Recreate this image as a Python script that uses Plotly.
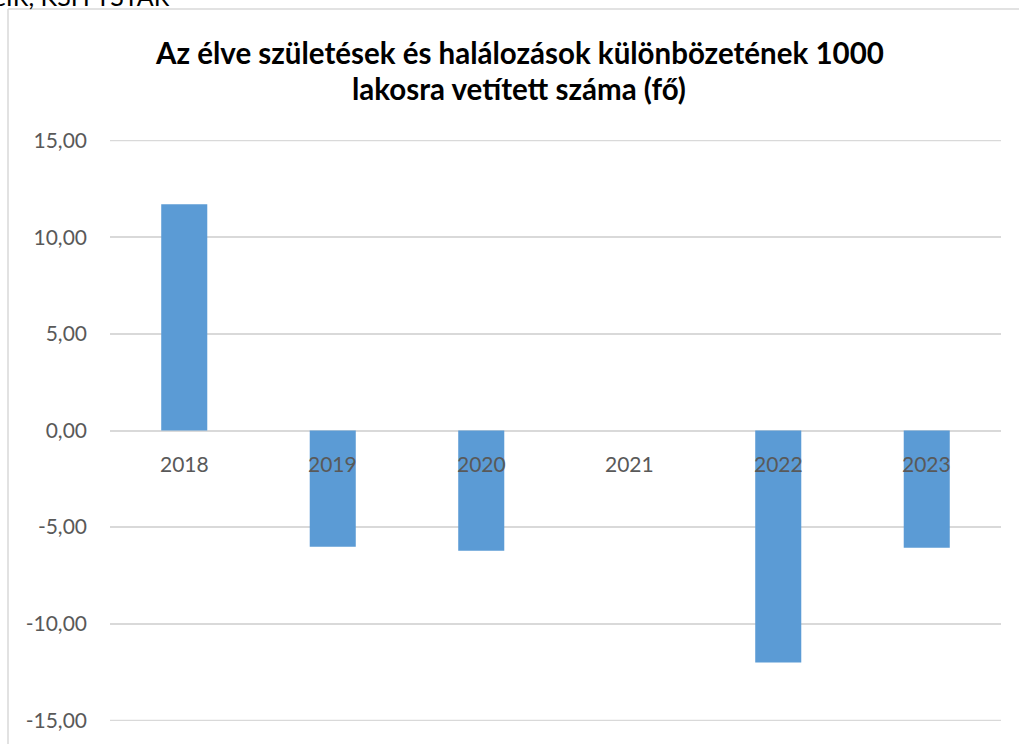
import plotly.graph_objects as go

years = ["2018", "2019", "2020", "2021", "2022", "2023"]
values = [11.70, -6.02, -6.22, 0.0, -12.00, -6.06]
y_ticks = [15, 10, 5, 0, -5, -10, -15]
y_tick_labels = ["15,00", "10,00", "5,00", "0,00", "-5,00", "-10,00", "-15,00"]
title_lines = ["Az élve születések és halálozások különbözetének 1000",
               "lakosra vetített száma (fő)"]
source_text = "eIR, KSH TSTAR"

W, H = 1019, 744
PL, PR, PT, PB = 110, 1001, 140, 721
L, T, R, B = PL, PT, W - PR, H - PB
pw, ph = W - L - R, H - T - B

def px_x(x):
    return (x - L) / pw

def px_y(y):
    return 1 - (y - T) / ph

fig = go.Figure()
fig.add_trace(go.Bar(
    x=years, y=values,
    marker=dict(color="#5B9BD5", line=dict(width=0)),
    showlegend=False,
))

# category labels next to the zero line
for i, yr in enumerate(years):
    fig.add_annotation(x=i, y=0, xref="x", yref="y", text=yr, showarrow=False,
                       yanchor="top", yshift=-18,
                       font=dict(family="Lato", size=21, color="#595959"))

for line, yc in zip(title_lines, [52, 88]):
    fig.add_annotation(x=px_x(519), y=px_y(yc), xref="paper", yref="paper",
                       text="<b>" + line + "</b>", showarrow=False,
                       xanchor="center", yanchor="middle",
                       font=dict(family="Lato", size=29.5, color="#000000"))

fig.add_annotation(x=px_x(-9), y=px_y(-4), xref="paper", yref="paper",
                   text=source_text, showarrow=False,
                   xanchor="left", yanchor="middle",
                   font=dict(family="Lato", size=25, color="#000000"))

# chart border (top and left edges visible)
fig.add_shape(type="line", xref="paper", yref="paper",
              x0=px_x(8), x1=px_x(1040), y0=px_y(9), y1=px_y(9),
              line=dict(color="#D9D9D9", width=1.5))
fig.add_shape(type="line", xref="paper", yref="paper",
              x0=px_x(8), x1=px_x(8), y0=px_y(9), y1=px_y(780),
              line=dict(color="#D9D9D9", width=1.5))
# gridlines at the range edges
for yv in (y_ticks[0], y_ticks[-1]):
    fig.add_shape(type="line", xref="paper", yref="y", x0=0, x1=1, y0=yv, y1=yv,
                  line=dict(color="#D9D9D9", width=1.5), layer="below")

fig.update_layout(
    width=W, height=H,
    margin=dict(l=L, r=R, t=T, b=B),
    paper_bgcolor="white", plot_bgcolor="white",
    bargap=0.69,
    xaxis=dict(type="category", range=[-0.5, len(years) - 0.5], autorange=False,
               showticklabels=False, showgrid=False,
               zeroline=False, showline=False),
    yaxis=dict(range=[-15.03, 15.03], tickvals=y_ticks, ticktext=y_tick_labels,
               showgrid=True, gridcolor="#D9D9D9", gridwidth=1.5,
               zeroline=True, zerolinecolor="#D9D9D9", zerolinewidth=1.5,
               showline=False, ticks="", ticklabelstandoff=22,
               tickfont=dict(family="Lato", size=21, color="#595959")),
)

fig.write_html("out.html", config={"displayModeBar": False},
               post_script="document.body.style.margin='0px';")
